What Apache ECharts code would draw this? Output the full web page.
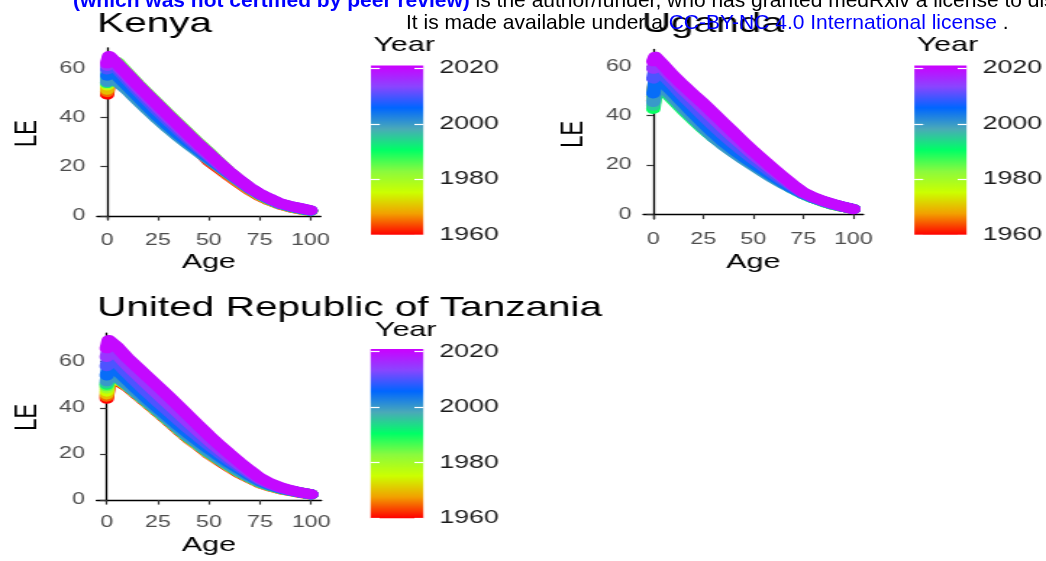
<!DOCTYPE html>
<html>
<head>
<meta charset="utf-8">
<script src="https://cdn.jsdelivr.net/npm/echarts@6/dist/echarts.min.js"></script>
<style>
html, body { margin: 0; padding: 0; background: #fff; overflow: hidden; }
#wrap { position: relative; width: 1046px; height: 561px; overflow: hidden; }
/* the panels in the reference are stretched sideways, so draw narrow and widen */
#main { position: absolute; left: 0; top: 0; width: 722px; height: 561px; transform: scaleX(1.448753); transform-origin: 0 0; }
#head { position: absolute; left: 0; top: 0; width: 1046px; height: 561px; }
</style>
</head>
<body>
<div id="wrap"><div id="main"></div><div id="head"></div></div>
<script>
var ages = [0, 1, 5, 10, 15, 20, 25, 30, 35, 40, 45, 50, 55, 60, 65, 70, 75, 80, 85, 90, 95, 100];
var years = [1960, 1965, 1970, 1975, 1980, 1985, 1990, 1995, 2000, 2005, 2010, 2015, 2020];
var ageTicks = [0, 25, 50, 75, 100];
var leTicks = [0, 20, 40, 60];
var yearTicks = [1960, 1980, 2000, 2020];
var yearRange = [1960, 2021];

// life expectancy by age, one row per year (same order as years)
var kenyaLE = [
    [49.3, 56.5, 57, 53, 49, 45, 41.2, 37.5, 33.9, 30.3, 26.7, 22.3, 19.3, 16.2, 13.3, 10.5, 8.1, 6.2, 4.6, 3.5, 2.7, 2],
    [50.3, 57, 57.8, 54, 50, 46, 42.1, 38.3, 34.6, 30.9, 27.2, 22.8, 19.6, 16.5, 13.5, 10.7, 8.2, 6.3, 4.7, 3.6, 2.7, 2],
    [51.3, 58, 59, 55, 50.9, 46.8, 42.8, 38.9, 35.1, 31.4, 27.7, 23.5, 20.1, 16.8, 13.8, 10.9, 8.4, 6.4, 4.8, 3.7, 2.8, 2],
    [53, 59.5, 60.5, 56.6, 52.4, 48.3, 44.2, 40.3, 36.4, 32.6, 28.8, 24.9, 21.1, 17.5, 14.2, 11.1, 8.5, 6.5, 4.8, 3.7, 2.8, 2],
    [53.5, 60.5, 61.8, 57.7, 53.4, 49.3, 45.2, 41.3, 37.3, 33.4, 29.4, 25.6, 21.7, 17.8, 14.5, 11.3, 8.7, 6.6, 4.9, 3.8, 2.9, 2.1],
    [54, 61.5, 62.5, 58.1, 53.7, 49.6, 45.5, 41.5, 37.5, 33.5, 29.6, 25.9, 21.9, 18, 14.6, 11.4, 8.8, 6.7, 4.9, 3.8, 2.9, 2.1],
    [54, 60.8, 61.5, 57, 52.6, 48.3, 44.2, 40.2, 36.3, 32.5, 28.8, 25.2, 21.5, 17.7, 14.4, 11.3, 8.7, 6.6, 4.9, 3.8, 2.9, 2.1],
    [54.2, 59.3, 58, 54, 49.8, 45.6, 41.6, 37.8, 34.2, 30.8, 27.4, 24.1, 20.8, 17.4, 14.3, 11.3, 8.8, 6.7, 5, 3.9, 3, 2.1],
    [54.5, 57.5, 54.5, 51, 47, 43, 39.2, 35.6, 32.2, 29, 25.9, 22.9, 20, 17, 14.1, 11.2, 8.7, 6.7, 4.9, 3.8, 2.9, 2.1],
    [57, 60, 57, 52.8, 48.6, 44.4, 40.4, 36.7, 33.2, 29.9, 26.7, 23.5, 20.4, 17.2, 14.3, 11.3, 8.8, 6.8, 5, 3.9, 3, 2.2],
    [59.5, 63, 59.8, 55.3, 50.9, 46.7, 42.6, 38.7, 34.9, 31.2, 27.6, 24.2, 20.8, 17.4, 14.4, 11.4, 8.9, 6.9, 5, 4, 3.1, 2.2],
    [61, 64.2, 61, 56.6, 52.2, 48.1, 44, 40, 36.1, 32.2, 28.4, 24.8, 21.2, 17.7, 14.6, 11.5, 9, 7, 5.1, 4.1, 3.2, 2.3],
    [62, 65, 61.8, 57.6, 53.3, 49.2, 45.1, 41.1, 37.1, 33.1, 29.2, 25.5, 21.7, 18, 14.8, 11.6, 9.1, 7.1, 5.2, 4.1, 3.2, 2.3]
];
var ugandaLE = [
    [46, 52, 53, 49.3, 45.3, 41.4, 37.7, 34.1, 30.7, 27.5, 24.4, 21.4, 18.5, 15.7, 13.1, 10.7, 8.4, 6.6, 5.1, 3.9, 3, 2.2],
    [47.5, 53.5, 54.3, 50.5, 46.4, 42.4, 38.6, 34.9, 31.4, 28.1, 24.9, 21.8, 18.8, 15.9, 13.2, 10.8, 8.5, 6.7, 5.2, 3.9, 3, 2.2],
    [48.5, 54.5, 55.2, 51.3, 47.1, 43, 39.1, 35.3, 31.7, 28.4, 25.1, 22, 18.9, 16, 13.3, 10.9, 8.6, 6.7, 5.2, 4, 3, 2.2],
    [47.5, 53.5, 54.3, 50.4, 46.2, 42.1, 38.3, 34.6, 31.1, 27.9, 24.7, 21.7, 18.7, 15.9, 13.2, 10.8, 8.5, 6.7, 5.2, 3.9, 3, 2.2],
    [46, 52, 53, 49, 44.8, 40.8, 37, 33.4, 30.1, 27, 24, 21.1, 18.3, 15.6, 13, 10.7, 8.4, 6.6, 5.1, 3.9, 3, 2.2],
    [44.5, 50.5, 51.7, 47.7, 43.5, 39.5, 35.8, 32.3, 29.2, 26.3, 23.5, 20.8, 18.1, 15.4, 12.8, 10.5, 8.3, 6.5, 5.1, 3.9, 3, 2.2],
    [42.7, 48.5, 50.3, 46.3, 42.2, 38.3, 34.6, 31.3, 28.4, 25.8, 23.2, 20.6, 17.9, 15.2, 12.6, 10.3, 8.2, 6.5, 5.1, 3.9, 3, 2.2],
    [44, 49.8, 50.8, 46.8, 42.7, 38.7, 34.9, 31.3, 28.2, 25.4, 22.7, 20.1, 17.5, 14.9, 12.5, 10.3, 8.2, 6.5, 5.1, 3.9, 3, 2.2],
    [45.5, 51, 51.5, 47.5, 43.3, 39.2, 35.2, 31.3, 28, 25.1, 22.3, 19.7, 17.1, 14.6, 12.3, 10.2, 8.2, 6.6, 5.2, 4, 3, 2.2],
    [49, 54.2, 53.5, 49.4, 45.2, 41, 37, 33.1, 29.5, 26.3, 23.3, 20.6, 17.9, 15.3, 12.8, 10.5, 8.4, 6.7, 5.3, 4.1, 3.1, 2.2],
    [55, 58.8, 56.5, 52.3, 48, 43.9, 39.9, 36, 32.3, 28.8, 25.5, 22.4, 19.4, 16.5, 13.7, 11.1, 8.6, 6.8, 5.3, 4.1, 3.1, 2.2],
    [59, 62, 59, 54.7, 50.6, 46.7, 42.8, 38.9, 35, 31.3, 27.7, 24.2, 20.9, 17.7, 14.6, 11.6, 8.8, 6.9, 5.4, 4.2, 3.1, 2.2],
    [62, 63.9, 60.5, 56.2, 52.3, 48.6, 45, 41.1, 37.2, 33.3, 29.4, 25.6, 22.1, 18.6, 15.2, 11.9, 8.9, 7, 5.5, 4.3, 3.2, 2.1]
];
var tanzaniaLE = [
    [43.9, 50.5, 51.8, 49.2, 45.5, 41.8, 38.1, 34.3, 30.4, 26.6, 23.4, 19.9, 17, 14.2, 11.5, 9.3, 7.2, 5.8, 4.6, 3.8, 3, 2.3],
    [44.8, 51, 52.2, 49.5, 45.8, 42.1, 38.4, 34.6, 30.7, 26.9, 23.7, 20.2, 17.3, 14.5, 11.8, 9.6, 7.4, 6, 4.8, 4, 3.2, 2.4],
    [45.8, 51.8, 52.4, 49.6, 45.9, 42.2, 38.5, 34.7, 30.8, 27, 23.8, 20.3, 17.4, 14.6, 11.9, 9.6, 7.5, 6, 4.8, 4, 3.2, 2.4],
    [47, 52.5, 52.7, 49.7, 46, 42.3, 38.6, 34.8, 30.9, 27.1, 23.8, 20.4, 17.4, 14.6, 11.9, 9.7, 7.5, 6, 4.8, 4, 3.2, 2.4],
    [48.3, 53.5, 53, 49.8, 46, 42.3, 38.6, 34.8, 30.9, 27.1, 23.9, 20.4, 17.5, 14.7, 12, 9.7, 7.5, 6.1, 4.8, 4, 3.2, 2.4],
    [49.3, 54.5, 53.2, 49.9, 46.1, 42.4, 38.7, 34.9, 31, 27.2, 23.9, 20.5, 17.5, 14.7, 12, 9.7, 7.6, 6.1, 4.9, 4, 3.2, 2.4],
    [50, 55, 53.3, 49.9, 46.1, 42.4, 38.7, 34.9, 31, 27.2, 24, 20.5, 17.6, 14.8, 12.1, 9.8, 7.6, 6.1, 4.9, 4, 3.2, 2.4],
    [50.5, 55.2, 53.2, 49.8, 46.1, 42.4, 38.7, 34.9, 31, 27.2, 24, 20.5, 17.6, 14.8, 12.1, 9.8, 7.6, 6.1, 4.9, 4, 3.2, 2.4],
    [51.5, 56, 53.5, 50, 46.2, 42.5, 38.8, 35, 31.1, 27.4, 24.1, 20.7, 17.7, 14.9, 12.2, 9.9, 7.7, 6.2, 4.9, 4, 3.2, 2.4],
    [54, 58.5, 56.4, 52.1, 47.9, 43.8, 40, 36.2, 32.4, 28.8, 25.4, 22.1, 19, 16, 13.3, 10.7, 8.2, 6.4, 5, 4, 3.2, 2.4],
    [58, 62, 59.6, 55, 50.7, 46.5, 42.5, 38.6, 34.7, 30.9, 27.3, 23.8, 20.4, 17.2, 14.2, 11.3, 8.6, 6.7, 5.2, 4.1, 3.2, 2.4],
    [62, 66, 63.2, 58.4, 54.2, 50, 45.9, 41.8, 37.7, 33.6, 29.6, 25.7, 22, 18.5, 15.1, 12, 9.1, 7, 5.4, 4.2, 3.2, 2.5],
    [65.8, 69.4, 66.5, 61.7, 57.6, 53.5, 49.4, 45.2, 40.9, 36.6, 32.3, 28, 24, 20.1, 16.4, 12.9, 9.6, 7.3, 5.6, 4.3, 3.3, 2.5]
];

var FONT = '"Liberation Sans", Arial, Helvetica, sans-serif';
// ggplot-like colour ramp (rainbow(5) with in-between shades)
var rampStops = ['#FF0000', '#F2A000', '#CCFF00', '#8AFA3E', '#00FF66', '#4AAAB8', '#0066FF', '#8A45FF', '#CC00FF'];

function hexToRgb(h) {
    return [parseInt(h.slice(1, 3), 16), parseInt(h.slice(3, 5), 16), parseInt(h.slice(5, 7), 16)];
}
function yearColour(y) {
    var t = (y - yearRange[0]) / (yearRange[1] - yearRange[0]);
    t = Math.max(0, Math.min(1, t));
    var n = rampStops.length - 1;
    var k = Math.min(n - 1, Math.floor(t * n));
    var f = t * n - k;
    var a = hexToRgb(rampStops[k]), b = hexToRgb(rampStops[k + 1]);
    return 'rgb(' + a.map(function (v, i) { return Math.round(v + (b[i] - v) * f); }).join(',') + ')';
}
var barGradient = new echarts.graphic.LinearGradient(0, 1, 0, 0, rampStops.map(function (c, i) {
    return {offset: i / (rampStops.length - 1), color: c};
}));

var panels = [
    {name: 'Kenya', le: kenyaLE, grid: {left: 66.9, top: 47.8, width: 154.4, height: 171.4}, yMin: -1.3, yMax: 68.3,
        bar: {left: 256, top: 65.5, width: 36.2, height: 169.3}, titlePos: [67, 24.6], yearPos: [257.7, 45.2]},
    {name: 'Uganda', le: ugandaLE, grid: {left: 444, top: 49.5, width: 151.9, height: 169.4}, yMin: -1.8, yMax: 66.8,
        bar: {left: 631.1, top: 65.5, width: 36.1, height: 169.3}, titlePos: [442.9, 24.6], yearPos: [632.7, 45.2]},
    {name: 'United Republic of Tanzania', le: tanzaniaLE, grid: {left: 66.6, top: 333.1, width: 155.2, height: 168.5}, yMin: -0.7, yMax: 72.4,
        bar: {left: 255.8, top: 348.9, width: 36.4, height: 169.3}, titlePos: [67, 308], yearPos: [258.8, 330.2]}
];

var grids = [], xAxes = [], yAxes = [], series = [], graphics = [];

panels.forEach(function (p, pi) {
    grids.push(Object.assign({outerBoundsMode: 'none'}, p.grid));
    grids.push(Object.assign({outerBoundsMode: 'none'}, p.bar));

    xAxes.push({
        gridIndex: 2 * pi, type: 'value', min: -5, max: 105,
        name: 'Age', nameLocation: 'middle', nameGap: 33,
        nameTextStyle: {fontFamily: FONT, fontSize: 21, color: '#000'},
        axisLine: {show: true, lineStyle: {color: '#000', width: 1.3}},
        axisTick: {show: true, length: 4.6, customValues: ageTicks, lineStyle: {color: '#333', width: 1.2}},
        axisLabel: {customValues: ageTicks, margin: 13, fontFamily: FONT, fontSize: 16, color: '#4D4D4D'},
        splitLine: {show: false}
    });
    xAxes.push({gridIndex: 2 * pi + 1, type: 'category', data: ['Year'], show: false});

    yAxes.push({
        gridIndex: 2 * pi, type: 'value', min: p.yMin, max: p.yMax,
        name: 'LE', nameLocation: 'middle', nameGap: 37,
        nameTextStyle: {fontFamily: FONT, fontSize: 22, color: '#000'},
        axisLine: {show: true, lineStyle: {color: '#000', width: 1.3}},
        axisTick: {show: true, length: 4.6, customValues: leTicks, lineStyle: {color: '#333', width: 1.2}},
        axisLabel: {customValues: leTicks, margin: 8, fontFamily: FONT, fontSize: 16, color: '#4D4D4D'},
        splitLine: {show: false}
    });
    // colour bar: white ticks on both sides, labels on the right
    yAxes.push({
        gridIndex: 2 * pi + 1, type: 'value', position: 'left', min: yearRange[0], max: yearRange[1], z: 10,
        axisLine: {show: false},
        axisTick: {show: true, inside: true, length: 6.2, customValues: yearTicks, lineStyle: {color: '#fff', width: 1.2}},
        axisLabel: {show: false}, splitLine: {show: false}
    });
    yAxes.push({
        gridIndex: 2 * pi + 1, type: 'value', position: 'right', min: yearRange[0], max: yearRange[1], z: 10,
        axisLine: {show: false},
        axisTick: {show: true, inside: true, length: 6.2, customValues: yearTicks, lineStyle: {color: '#fff', width: 1.2}},
        axisLabel: {customValues: yearTicks, margin: 11, fontFamily: FONT, fontSize: 18.5, color: '#1A1A1A',
            formatter: function (v) { return String(v); }},
        splitLine: {show: false}
    });

    years.forEach(function (yr, yi) {
        series.push({
            type: 'line', name: p.name + ' ' + yr,
            xAxisIndex: 2 * pi, yAxisIndex: 3 * pi,
            data: ages.map(function (a, i) { return [a, p.le[yi][i]]; }),
            showSymbol: false, symbol: 'none', silent: true, animation: false,
            lineStyle: {width: 10, color: yearColour(yr), cap: 'round', join: 'round'}
        });
    });
    series.push({
        type: 'bar', xAxisIndex: 2 * pi + 1, yAxisIndex: 3 * pi + 2,
        data: [yearRange[1]], barWidth: '100%', silent: true, animation: false,
        itemStyle: {color: barGradient}
    });

    graphics.push({type: 'text', x: p.titlePos[0], y: p.titlePos[1],
        style: {text: p.name, font: '28px ' + FONT, fill: '#000', verticalAlign: 'middle'}});
    graphics.push({type: 'text', x: p.yearPos[0], y: p.yearPos[1],
        style: {text: 'Year', font: '21px ' + FONT, fill: '#000', verticalAlign: 'middle'}});
});

var chart = echarts.init(document.getElementById('main'));
chart.setOption({
    backgroundColor: '#fff',
    animation: false,
    grid: grids,
    xAxis: xAxes,
    yAxis: yAxes,
    series: series,
    graphic: graphics
});

// preprint notice printed over the top of the figure (not stretched)
var head = echarts.init(document.getElementById('head'));
head.setOption({
    graphic: [
        {type: 'text', x: 73, y: 0.8, style: {
            text: '{b|(which was not certified by peer review)}{t| is the author/funder, who has granted medRxiv a license to display the preprint in perpetuity.}',
            verticalAlign: 'middle',
            rich: {
                b: {fontFamily: FONT, fontSize: 21, fontWeight: 'bold', fill: '#0000FF'},
                t: {fontFamily: FONT, fontSize: 21, fill: '#000'}
            }
        }},
        {type: 'text', x: 406, y: 23.5, style: {
            text: '{t|It is made available under a }{l|CC-BY-NC 4.0 International license}{t| .}',
            verticalAlign: 'middle',
            rich: {
                t: {fontFamily: FONT, fontSize: 21, fill: '#000'},
                l: {fontFamily: FONT, fontSize: 21, fill: '#0000FF'}
            }
        }}
    ]
});
</script>
</body>
</html>
